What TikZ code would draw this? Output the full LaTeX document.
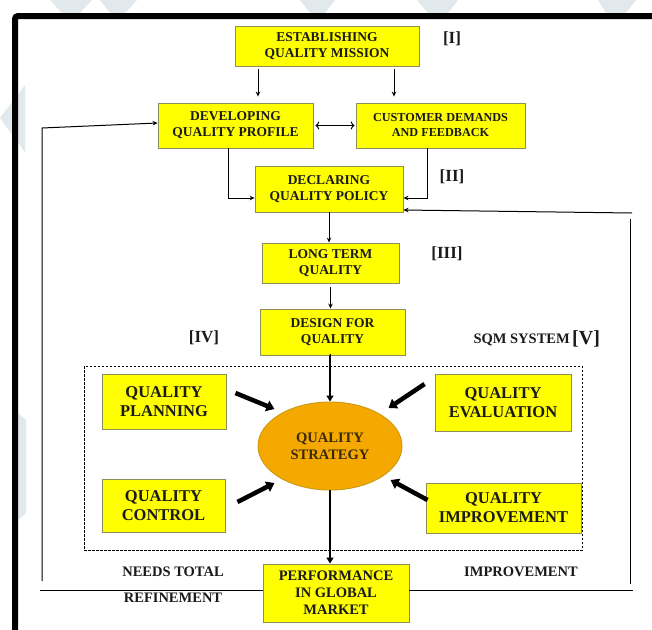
\documentclass[tikz,border=0pt]{standalone}
\usepackage{fontspec}
\setmainfont{Liberation Serif}
\usepackage{xcolor}
\usetikzlibrary{arrows.meta,positioning,shapes.geometric}

\definecolor{boxyellow}{HTML}{FFFF00}
\definecolor{boxedge}{HTML}{8E8E5C}
\definecolor{coreorange}{HTML}{F5A800}
\definecolor{coreedge}{HTML}{C99A10}
\definecolor{inkdark}{HTML}{1A1A1A}
\definecolor{coreink}{HTML}{3A2A08}
\definecolor{wmgrey}{HTML}{E2E9ED}

\begin{document}
\begin{tikzpicture}[
    x=1pt, y=-1pt,
    text=inkdark,
    box/.style={draw=boxedge, fill=boxyellow, line width=0.9pt, align=center,
                inner sep=0pt, font=\bfseries\fontsize{13.5}{16}\selectfont},
    bigbox/.style={box, font=\bfseries\fontsize{16.5}{19}\selectfont},
    core/.style={ellipse, draw=coreedge, fill=coreorange, line width=0.9pt,
                 minimum width=144pt, minimum height=88pt, align=center,
                 inner sep=0pt, text=coreink,
                 font=\bfseries\fontsize{14.5}{17}\selectfont},
    tag/.style={font=\bfseries\fontsize{17}{19}\selectfont, inner sep=0pt},
    note/.style={font=\bfseries\fontsize{14.5}{17}\selectfont, inner sep=0pt},
    flow/.style={-{Stealth[length=5pt,width=4.5pt]}, line width=1pt},
    wire/.style={line width=1pt},
    fat/.style={-{Triangle[length=8pt,width=11pt]}, line width=4.5pt},
    mid/.style={-{Triangle[length=6pt,width=7pt]}, line width=2.5pt}
  ]
    \useasboundingbox (0,0) rectangle (652,629);
    \clip (0,0) rectangle (652,629);
    \fill[white] (0,0) rectangle (652,629);

    % faint background marks
    \fill[wmgrey] (25,85) -- (0,118) -- (25,152) -- cycle;
    \fill[wmgrey] (18,413) -- (26,420) -- (26,513) -- (18,520) -- cycle;
    \fill[wmgrey] (50,0) -- (92,0) -- (80,13) -- (62,13) -- cycle;
    \fill[wmgrey] (100,0) -- (137,0) -- (125,13) -- (110,13) -- cycle;
    \fill[wmgrey] (300,0) -- (335,0) -- (325,13) -- (310,13) -- cycle;
    \fill[wmgrey] (417,0) -- (458,0) -- (448,13) -- (428,13) -- cycle;
    \fill[wmgrey] (598,0) -- (636,0) -- (626,13) -- (606,13) -- cycle;

    % outer frame
    \draw[line width=6pt, rounded corners=3pt] (15,660) -- (15,16) -- (670,16);

    % main column
    \node[box, minimum width=184pt, minimum height=40pt] (mission) at (327,46)
      {ESTABLISHING\\QUALITY MISSION};
    \node[box, minimum width=155pt, minimum height=45pt] (profile) at (235.5,125.5)
      {DEVELOPING\\QUALITY PROFILE};
    \node[box, minimum width=169pt, minimum height=45pt,
          font=\bfseries\fontsize{12.2}{15}\selectfont] (demands) at (440.5,125.5)
      {CUSTOMER DEMANDS\\AND FEEDBACK};
    \node[box, minimum width=148pt, minimum height=46pt] (policy) at (329,189)
      {DECLARING\\QUALITY POLICY};
    \node[box, minimum width=137pt, minimum height=40pt] (longterm) at (330.5,263)
      {LONG TERM\\QUALITY};
    \node[box, minimum width=145pt, minimum height=46pt] (design) at (332.5,332)
      {DESIGN FOR\\QUALITY};

    % SQM system
    \draw[dash pattern=on 2.5pt off 1.5pt, line width=0.8pt] (84,366) rectangle (582,550);
    \node[core] (strategy) at (330,446) {QUALITY\\STRATEGY};
    \node[bigbox, minimum width=124pt, minimum height=55pt] (planning) at (164,401.5)
      {QUALITY\\PLANNING};
    \node[bigbox, minimum width=136pt, minimum height=57pt] (evaluation) at (503,402.5)
      {QUALITY\\EVALUATION};
    \node[bigbox, minimum width=123pt, minimum height=53pt] (control) at (163.5,505.5)
      {QUALITY\\CONTROL};
    \node[bigbox, minimum width=155pt, minimum height=50pt] (improvement) at (503.5,508)
      {QUALITY\\IMPROVEMENT};
    \node[box, minimum width=146pt, minimum height=58pt,
          font=\bfseries\fontsize{14.5}{17}\selectfont] (market) at (336,593)
      {PERFORMANCE\\IN GLOBAL\\MARKET};

    % stage tags
    \node[tag] (t1) at (452,39) {[I]};
    \node[tag] (t2) at (452,177) {[II]};
    \node[tag] (t3) at (447,254) {[III]};
    \node[tag] (t4) at (204,338) {[IV]};
    \node[note, anchor=base east] (sqm) at (570,343) {SQM SYSTEM};
    \node[tag, right=2pt of sqm.east, anchor=west, font=\bfseries\fontsize{20}{22}\selectfont] (t5) {[V]};
    \node[note] (needs) at (173,572) {NEEDS TOTAL};
    \node[note] (refine) at (173,598) {REFINEMENT};
    \node[note] (improve) at (521,572) {IMPROVEMENT};

    % links
    \draw[flow, shorten <=3pt, shorten >=6pt] ([xshift=-69pt]mission.south) -- ([xshift=22.5pt]profile.north);
    \draw[flow, shorten <=3pt, shorten >=6pt] ([xshift=67pt]mission.south) -- ([xshift=-46.5pt]demands.north);
    \draw[flow, <->, shorten <=2pt, shorten >=1pt] (profile.east) -- (demands.west);
    \draw[flow] ([xshift=-7.5pt]profile.south) |- ([yshift=-9pt]policy.west);
    \draw[flow] ([xshift=-13.5pt]demands.south) |- ([yshift=-9pt]policy.east);
    \draw[flow] (policy.south) -- (policy.south |- longterm.north);
    \draw[flow, shorten <=4pt] (longterm.south) -- (longterm.south |- design.north);
    \draw[mid, shorten <=3pt] (design.south) -- (design.south -| strategy.north) -- (strategy.north);
    \draw[mid] (strategy.south) -- (strategy.south |- market.north);

    \draw[fat] ([shift={(9pt,8.5pt)}]planning.east) -- ++(39pt,-16pt);
    \draw[fat] ([shift={(-10pt,18.5pt)}]evaluation.west) -- ++(-36pt,-24pt);
    \draw[fat] ([shift={(12pt,3.5pt)}]control.east) -- ++(37pt,19pt);
    \draw[fat] ([shift={(2pt,8pt)}]improvement.west) -- ++(-37pt,20pt);

    % refinement loop (left)
    \coordinate (lbot) at (42,581);
    \coordinate (ltop) at (42,128);
    \draw[wire] ([yshift=3pt]market.west) -- ++(-223pt,0);
    \draw[flow] (lbot) -- (ltop) -- ([yshift=2.5pt]profile.west);

    % improvement loop (right)
    \coordinate (rbot) at (630,584);
    \coordinate (rtop) at (630,219);
    \coordinate (rin) at (632,213);
    \draw[wire] ([yshift=3pt]market.east) -- ++(224pt,0);
    \draw[wire] (rbot) -- (rtop);
    \draw[flow] (rin) -- ([yshift=-21pt]policy.east);
\end{tikzpicture}
\end{document}
